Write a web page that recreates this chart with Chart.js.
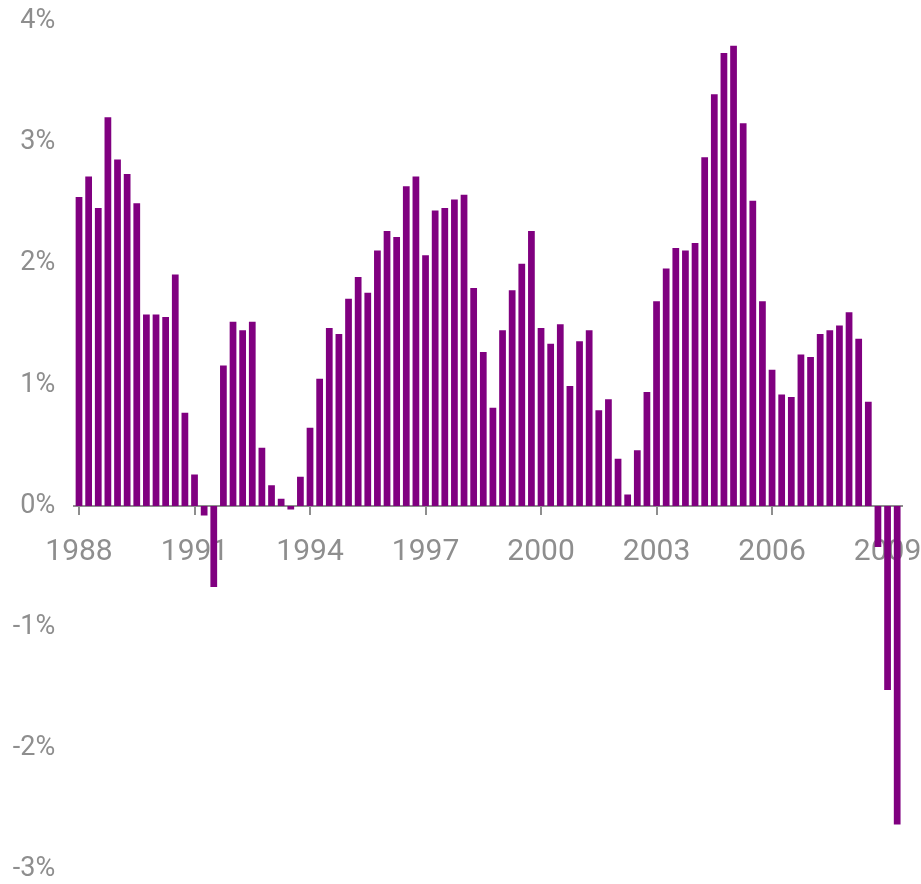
<!DOCTYPE html>
<html>
<head>
<meta charset="utf-8">
<script src="https://cdn.jsdelivr.net/npm/chart.js@4/dist/chart.umd.min.js"></script>
<style>
  html, body { margin: 0; padding: 0; background: #fff; }
  canvas { display: block; }
</style>
</head>
<body>
<canvas id="growth" width="921" height="884"></canvas>
<script>
// quarterly values, 1988 Q1 .. 2009 Q2 (percent)
const years = [1988, 1989, 1990, 1991, 1992, 1993, 1994, 1995, 1996, 1997, 1998,
  1999, 2000, 2001, 2002, 2003, 2004, 2005, 2006, 2007, 2008, 2009];
const quarters = ['Q1', 'Q2', 'Q3', 'Q4'];
const yearTicks = ['1988', '1991', '1994', '1997', '2000', '2003', '2006', '2009'];
const growth = [
  2.55, 2.72, 2.46, 3.21, 2.86, 2.74, 2.50, 1.58, 1.58, 1.56, 1.91, 0.77,
  0.26, -0.08, -0.67, 1.16, 1.52, 1.45, 1.52, 0.48, 0.17, 0.06, -0.03, 0.24,
  0.645, 1.05, 1.47, 1.42, 1.71, 1.89, 1.76, 2.11, 2.27, 2.22, 2.64, 2.72,
  2.07, 2.44, 2.46, 2.53, 2.57, 1.80, 1.27, 0.81, 1.45, 1.78, 2.00, 2.27,
  1.47, 1.34, 1.50, 0.99, 1.36, 1.45, 0.79, 0.88, 0.39, 0.095, 0.46, 0.94,
  1.69, 1.96, 2.13, 2.11, 2.17, 2.88, 3.40, 3.74, 3.80, 3.16, 2.52, 1.69,
  1.125, 0.92, 0.90, 1.25, 1.23, 1.42, 1.45, 1.49, 1.60, 1.38, 0.86, -0.34,
  -1.52, -2.63
];
const yTicks = [-3, -2, -1, 0, 1, 2, 3, 4];

const labels = [];
years.forEach(y => quarters.forEach(q => labels.push(y + ' ' + q)));
labels.length = growth.length;

const grey = '#8e8e8e';
const purple = '#800080';

new Chart(document.getElementById('growth'), {
  type: 'bar',
  data: {
    labels: labels,
    datasets: [{
      data: growth,
      backgroundColor: purple,
      borderWidth: 0,
      barPercentage: 0.7,
      categoryPercentage: 1
    }]
  },
  options: {
    responsive: false,
    animation: false,
    layout: { padding: { top: 21.5, right: 19, bottom: 14.8, left: 0 } },
    plugins: { legend: { display: false }, tooltip: { enabled: false } },
    scales: {
      x: {
        position: { y: 0 },
        offset: true,
        afterFit: s => {
          s.height = 0;
          s.paddingLeft = s.paddingRight = s.paddingTop = s.paddingBottom = 0;
        },
        grid: {
          display: true, drawOnChartArea: false, drawTicks: true,
          tickLength: 8, lineWidth: 2, color: grey, offset: false
        },
        border: { display: true, color: grey, width: 2 },
        ticks: {
          autoSkip: false, maxRotation: 0, minRotation: 0, padding: 24,
          color: grey,
          font: { family: 'Roboto', size: 30, lineHeight: 1 },
          callback: function (value) {
            const lab = this.getLabelForValue(value);
            const [yr, q] = lab.split(' ');
            return (q === 'Q1' && yearTicks.includes(yr)) ? yr : null;
          }
        }
      },
      y: {
        min: yTicks[0],
        max: yTicks[yTicks.length - 1],
        afterFit: s => {
          s.width = 74.2;
          s.paddingTop = s.paddingBottom = 0;
        },
        afterBuildTicks: s => { s.ticks = yTicks.map(v => ({ value: v })); },
        grid: { display: false, drawTicks: false },
        border: { display: false },
        ticks: {
          padding: 19,
          color: grey,
          font: { family: 'Roboto', size: 27, lineHeight: 1 },
          callback: v => v + '%'
        }
      }
    }
  }
});
</script>
</body>
</html>
